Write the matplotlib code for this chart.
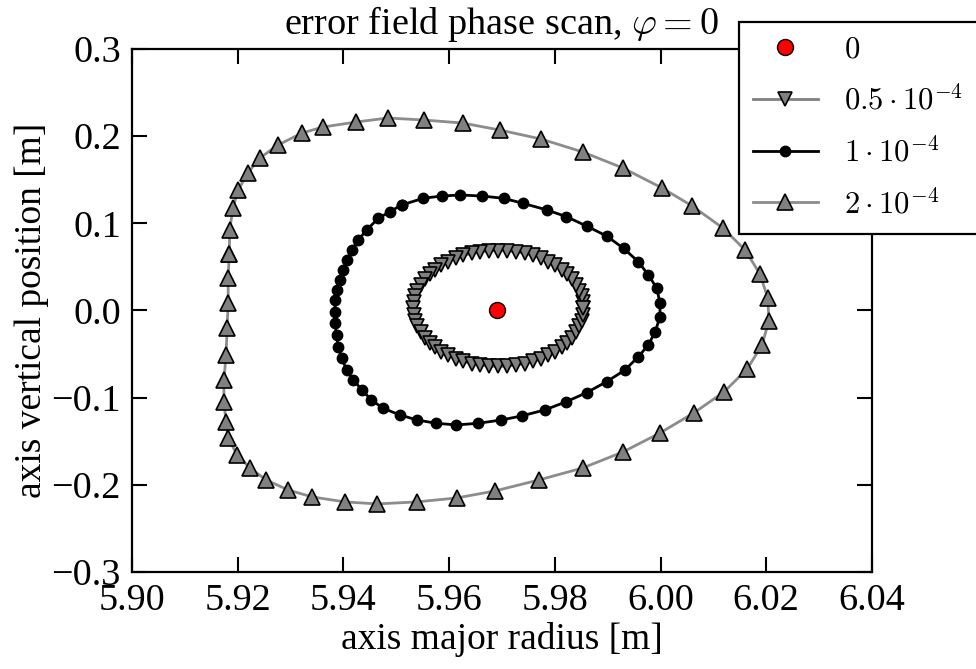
import numpy as np
import matplotlib
matplotlib.use('Agg')
import matplotlib.pyplot as plt
from matplotlib.ticker import FuncFormatter

plt.rcParams['font.family'] = 'serif'
plt.rcParams['font.serif'] = ['Liberation Serif', 'DejaVu Serif']
plt.rcParams['mathtext.fontset'] = 'cm'

# magnetic axis position for each error field amplitude
r0 = [5.9691]
z0 = [0.0]

r05 = [5.9854, 5.9853, 5.9851, 5.9846, 5.9840, 5.9832, 5.9823, 5.9813, 5.9801, 5.9788,
       5.9774, 5.9759, 5.9743, 5.9727, 5.9710, 5.9693, 5.9676, 5.9659, 5.9643, 5.9627,
       5.9613, 5.9598, 5.9585, 5.9573, 5.9563, 5.9554, 5.9546, 5.9540, 5.9535, 5.9533,
       5.9532, 5.9533, 5.9535, 5.9540, 5.9546, 5.9554, 5.9563, 5.9573, 5.9585, 5.9598,
       5.9613, 5.9627, 5.9643, 5.9659, 5.9676, 5.9693, 5.9710, 5.9727, 5.9743, 5.9759,
       5.9774, 5.9788, 5.9801, 5.9813, 5.9823, 5.9832, 5.9840, 5.9846, 5.9851, 5.9853]
z05 = [0.0023, 0.0093, 0.0161, 0.0229, 0.0294, 0.0356, 0.0414, 0.0468, 0.0517, 0.0561,
       0.0599, 0.0631, 0.0656, 0.0673, 0.0684, 0.0688, 0.0684, 0.0673, 0.0656, 0.0631,
       0.0599, 0.0561, 0.0517, 0.0468, 0.0414, 0.0356, 0.0294, 0.0229, 0.0161, 0.0093,
       0.0023, -0.0047, -0.0115, -0.0183, -0.0248, -0.0310, -0.0368, -0.0422, -0.0471, -0.0515,
       -0.0553, -0.0585, -0.0610, -0.0627, -0.0638, -0.0642, -0.0638, -0.0627, -0.0610, -0.0585,
       -0.0553, -0.0515, -0.0471, -0.0422, -0.0368, -0.0310, -0.0248, -0.0183, -0.0115, -0.0047]

r1 = [5.9510, 5.9551, 5.9586, 5.9621, 5.9662, 5.9703, 5.9740, 5.9785, 5.9822, 5.9860,
      5.9898, 5.9930, 5.9958, 5.9977, 5.9993, 5.9999, 5.9999, 5.9990, 5.9977, 5.9958,
      5.9933, 5.9898, 5.9860, 5.9822, 5.9781, 5.9737, 5.9699, 5.9655, 5.9614, 5.9576,
      5.9539, 5.9507, 5.9475, 5.9453, 5.9435, 5.9419, 5.9406, 5.9397, 5.9390, 5.9387,
      5.9384, 5.9384, 5.9384, 5.9387, 5.9394, 5.9400, 5.9406, 5.9416, 5.9428, 5.9444,
      5.9466, 5.9488]
z1 = [0.1210, 0.1287, 0.1313, 0.1325, 0.1313, 0.1287, 0.1229, 0.1153, 0.1076, 0.0969,
      0.0854, 0.0713, 0.0560, 0.0407, 0.0255, 0.0083, -0.0071, -0.0243, -0.0396, -0.0530,
      -0.0682, -0.0817, -0.0943, -0.1046, -0.1141, -0.1210, -0.1256, -0.1294, -0.1313, -0.1294,
      -0.1256, -0.1198, -0.1122, -0.1026, -0.0912, -0.0797, -0.0682, -0.0548, -0.0415, -0.0281,
      -0.0147, -0.0014, 0.0120, 0.0235, 0.0350, 0.0464, 0.0579, 0.0694, 0.0808, 0.0923,
      0.1057, 0.1133]

r2 = [5.9184, 5.9185, 5.9191, 5.9201, 5.9219, 5.9242, 5.9276, 5.9322, 5.9361, 5.9424,
      5.9484, 5.9552, 5.9626, 5.9696, 5.9774, 5.9853, 5.9929, 6.0003, 6.0060, 6.0118,
      6.0160, 6.0188, 6.0203, 6.0205, 6.0192, 6.0164, 6.0120, 6.0063, 5.9999, 5.9929,
      5.9853, 5.9770, 5.9687, 5.9615, 5.9539, 5.9464, 5.9403, 5.9341, 5.9295, 5.9254,
      5.9223, 5.9199, 5.9182, 5.9178, 5.9174, 5.9174, 5.9178, 5.9180, 5.9182, 5.9182]
z2 = [0.0648, 0.0923, 0.1175, 0.1382, 0.1577, 0.1749, 0.1898, 0.2036, 0.2104, 0.2162,
      0.2208, 0.2185, 0.2150, 0.2070, 0.1967, 0.1818, 0.1634, 0.1405, 0.1198, 0.0946,
      0.0694, 0.0419, 0.0143, -0.0120, -0.0396, -0.0671, -0.0935, -0.1175, -0.1405, -0.1623,
      -0.1806, -0.1944, -0.2070, -0.2150, -0.2196, -0.2219, -0.2196, -0.2139, -0.2058, -0.1944,
      -0.1806, -0.1657, -0.1462, -0.1279, -0.1049, -0.0797, -0.0510, -0.0201, 0.0086, 0.0373]

labels = ['$0$', r'$0.5\cdot10^{-4}$', r'$1\cdot10^{-4}$', r'$2\cdot10^{-4}$']


def closed(a):
    # repeat first point so the orbit is drawn as a closed curve
    return np.append(a, a[0])


def fmt(decimals):
    return FuncFormatter(lambda v, p: ('%.*f' % (decimals, v)).replace('-', '\u2212'))


fig = plt.figure(figsize=(9.76, 6.69), dpi=100)
ax = fig.add_axes([0.1352, 0.1450, 0.7582, 0.7818])

ax.plot(r0, z0, 'o', color='red', mec='black', mew=1.0, ms=11.5, label=labels[0], zorder=5)
ax.plot(closed(r05), closed(z05), '-v', color='0.5', mfc='0.5', mec='black', mew=1.2,
        ms=10.5, lw=2, label=labels[1])
ax.plot(closed(r1), closed(z1), '-o', color='black', ms=7.5, lw=2, label=labels[2])
ax.plot(closed(r2), closed(z2), '-^', color='0.55', mfc='0.5', mec='black', mew=1.2,
        ms=12, lw=2, label=labels[3])

ax.set_xlim(5.90, 6.04)
ax.set_ylim(-0.3, 0.3)
ax.set_xticks(np.arange(5.90, 6.041, 0.02))
ax.set_yticks(np.arange(-0.3, 0.31, 0.1))
ax.xaxis.set_major_formatter(fmt(2))
ax.yaxis.set_major_formatter(fmt(1))
ax.tick_params(direction='in', length=11, width=1.5, labelsize=27.5, pad=8,
               top=True, right=True)
for s in ax.spines.values():
    s.set_linewidth(1.6)

ax.set_xlabel('axis major radius [m]', fontsize=27, labelpad=3)
ax.set_ylabel('axis vertical position [m]', fontsize=27, labelpad=2)
ax.set_title(r'error field phase scan, $\varphi=0$', fontsize=27.5, pad=11)

# legend box runs past the right edge of the figure, as in the original
leg = fig.legend(loc='upper left', bbox_to_anchor=(0.757, 0.5, 0.27, 0.467), mode='expand',
                 numpoints=1, fontsize=22, frameon=True, fancybox=False, framealpha=1,
                 edgecolor='black', handlelength=2.15, handletextpad=0.85,
                 labelspacing=0.68, borderpad=0.45, borderaxespad=0)
leg.get_frame().set_linewidth(1.6)

fig.savefig('out.png', dpi=100)
